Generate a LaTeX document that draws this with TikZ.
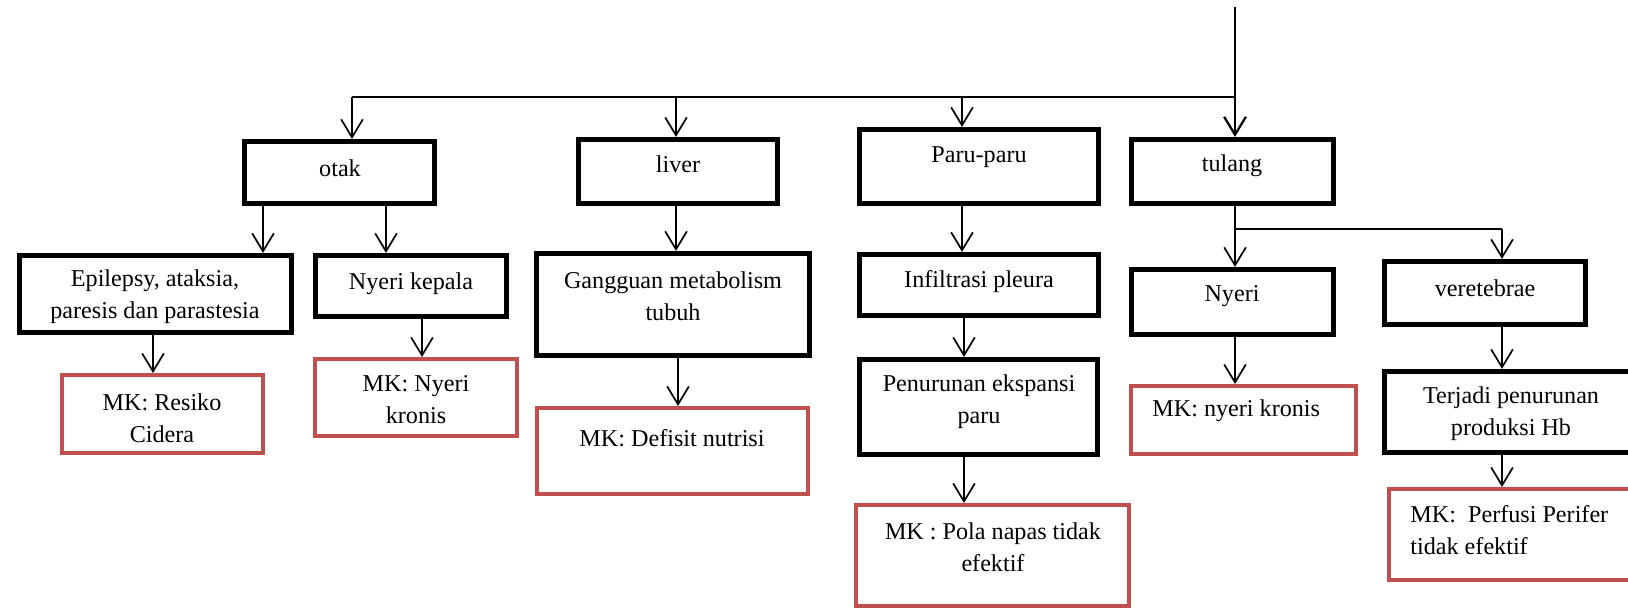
\documentclass[tikz,border=0pt]{standalone}
\usepackage{fontspec}
\setmainfont{Liberation Serif}
\usetikzlibrary{arrows.meta,fit}
\definecolor{mkred}{HTML}{C0504D}
\begin{document}
\begin{tikzpicture}[x=0.53pt,y=-0.53pt,
  bbox/.style={draw=black,line width=2.5pt,inner sep=-1.2pt,rectangle},
  rbox/.style={draw=mkred,line width=2pt,inner sep=-1pt,rectangle},
  txt/.style={font=\fontsize{12.8}{17}\selectfont,align=center,inner sep=0pt},
  txtl/.style={font=\fontsize{12.8}{17}\selectfont,align=left,inner sep=0pt,anchor=west},
  conn/.style={draw=black,line width=0.9pt},
  arr/.style={conn,-{Straight Barb[length=9.5pt,width=11.5pt]}}]
\useasboundingbox (0,0) rectangle (1628,612);
\clip (0,0) rectangle (1628,612);
% boxes
\node[bbox,fit={(242,139) (437,206)}] (otak) {};
\node[bbox,fit={(17,253) (294,335)}] (epi) {};
\node[bbox,fit={(313,253) (509,319)}] (nkep) {};
\node[rbox,fit={(60,373) (265,455)}] (mkres) {};
\node[rbox,fit={(313,357) (519,438)}] (mknk) {};
\node[bbox,fit={(576,137) (780,206)}] (liver) {};
\node[bbox,fit={(534,251) (812,358)}] (gang) {};
\node[rbox,fit={(535,406) (810,496)}] (mkdef) {};
\node[bbox,fit={(857,127) (1101,206)}] (paru) {};
\node[bbox,fit={(857,252) (1101,318)}] (infil) {};
\node[bbox,fit={(857,357) (1100,457)}] (penur) {};
\node[rbox,fit={(854,503) (1131,608)}] (mkpola) {};
\node[bbox,fit={(1129,137) (1336,206)}] (tulang) {};
\node[bbox,fit={(1129,267) (1336,337)}] (nyeri) {};
\node[bbox,fit={(1382,259) (1588,327)}] (vert) {};
\node[rbox,fit={(1129,384) (1358,456)}] (mknyk) {};
\node[bbox,fit={(1382,369) (1645,455)}] (terj) {};
\node[rbox,fit={(1387,487) (1645,582)}] (mkperf) {};
% texts
\node[txt] (t-otak) at (340,168) {otak};
\node[txt] (t-epi) at (155,297) {Epilepsy, ataksia,\\paresis dan parastesia};
\node[txt] (t-nkep) at (411,284) {Nyeri kepala};
\node[txt] (t-mkres) at (162,418) {MK: Resiko\\Cidera};
\node[txt] (t-mknk) at (416,400) {MK: Nyeri\\kronis};
\node[txt] (t-liver) at (678,164) {liver};
\node[txt] (t-gang) at (673,296) {Gangguan metabolism\\tubuh};
\node[txt] (t-mkdef) at (672,438) {MK: Defisit nutrisi};
\node[txt] (t-paru) at (979,157) {Paru-paru};
\node[txt] (t-infil) at (979,282) {Infiltrasi pleura};
\node[txt] (t-penur) at (979,402) {Penurunan ekspansi\\paru};
\node[txt] (t-mkpola) at (993,547) {MK : Pola napas tidak\\efektif};
\node[txt] (t-tulang) at (1232,166) {tulang};
\node[txt] (t-nyeri) at (1232,296) {Nyeri};
\node[txt] (t-vert) at (1485,288) {veretebrae};
\node[txtl] (t-mknyk) at (1152,411) {MK: nyeri kronis};
\node[txt] (t-terj) at (1511,414) {Terjadi penurunan\\produksi Hb};
\node[txtl] (t-mkperf) at (1410,530) {MK:\ \ Perfusi Perifer\\tidak efektif};
% connector helper coordinates
\coordinate (top) at (1235,7);
\coordinate (hL) at (352,97);
\coordinate (hR) at (1235,97);
\coordinate (xLiv) at (676,0);
\coordinate (xParu) at (962,0);
\coordinate (xE) at (263,0);
\coordinate (xK) at (386,0);
\coordinate (xR) at (153,0);
\coordinate (xN) at (422,0);
\coordinate (xG) at (678,0);
\coordinate (xI) at (964,0);
\coordinate (br) at (1235,229);
\coordinate (brR) at (1502,229);
% connectors
\draw[arr,line width=1.2pt] (top) -- (tulang.north -| top);
\draw[conn] (hL) -- (hR);
\draw[arr] (hL) -- (otak.north -| hL);
\draw[arr] (hL -| xLiv) -- (liver.north -| xLiv);
\draw[arr] (hL -| xParu) -- (paru.north -| xParu);
\draw[arr] (otak.south -| xE) -- (epi.north -| xE);
\draw[arr] (otak.south -| xK) -- (nkep.north -| xK);
\draw[arr] (epi.south -| xR) -- (mkres.north -| xR);
\draw[arr] (nkep.south -| xN) -- (mknk.north -| xN);
\draw[arr] (liver.south -| xLiv) -- (gang.north -| xLiv);
\draw[arr] (gang.south -| xG) -- (mkdef.north -| xG);
\draw[arr] (paru.south -| xParu) -- (infil.north -| xParu);
\draw[arr] (infil.south -| xI) -- (penur.north -| xI);
\draw[arr] (penur.south -| xI) -- (mkpola.north -| xI);
\draw[arr] (tulang.south -| top) -- (nyeri.north -| top);
\draw[conn] (br) -- (brR);
\draw[arr] (brR) -- (vert.north -| brR);
\draw[arr] (nyeri.south -| top) -- (mknyk.north -| top);
\draw[arr] (vert.south -| brR) -- (terj.north -| brR);
\draw[arr] (terj.south -| brR) -- (mkperf.north -| brR);
\end{tikzpicture}
\end{document}
